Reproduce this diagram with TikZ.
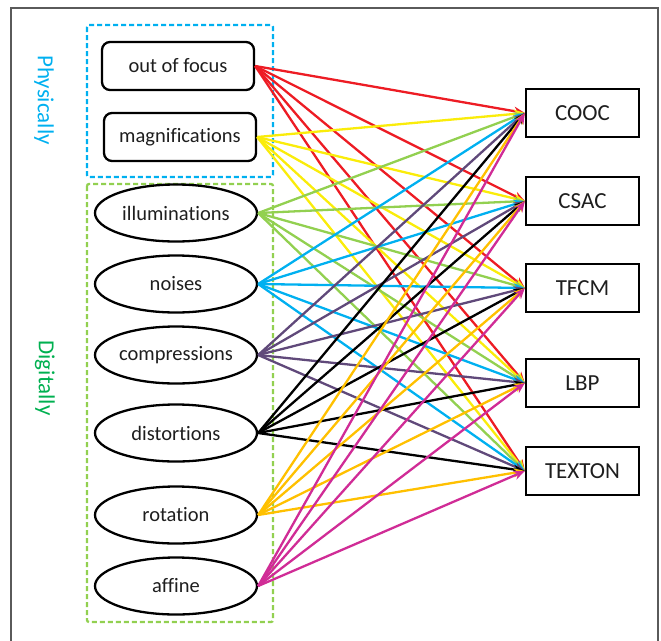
\documentclass[tikz,border=0pt]{standalone}
\usepackage{fontspec}
\setmainfont{Carlito}[Ligatures=NoCommon]
\usetikzlibrary{arrows.meta,shapes.geometric}
\definecolor{cred}{RGB}{237,28,36}
\definecolor{cyellow}{RGB}{250,236,10}
\definecolor{cgreen}{RGB}{146,208,80}
\definecolor{cblue}{RGB}{0,176,240}
\definecolor{cpurple}{RGB}{96,73,122}
\definecolor{corange}{RGB}{255,192,0}
\definecolor{cmagenta}{RGB}{208,44,150}
\definecolor{cdgreen}{RGB}{0,176,80}
\definecolor{cframe}{RGB}{90,90,90}
\definecolor{ctext}{RGB}{30,30,30}
\tikzset{
  rbox/.style={draw=black, line width=2.3pt, rounded corners=8pt, minimum width=152pt, minimum height=48pt, inner sep=0pt, text=ctext, font=\fontsize{20.5}{24}\selectfont},
  ebox/.style={draw=black, line width=2.3pt, ellipse, minimum width=162pt, minimum height=57pt, inner sep=0pt, text=ctext, font=\fontsize{20.5}{24}\selectfont},
  tbox/.style={draw=black, line width=2.3pt, minimum width=113pt, minimum height=48pt, inner sep=0pt, text=ctext, font=\fontsize{23}{27}\selectfont},
  grp/.style={line width=2.3pt, dash pattern=on 5pt off 3pt, rounded corners=2pt},
  lbl/.style={rotate=-90, font=\fontsize{23}{27}\selectfont},
  conn/.style={line width=2.3pt, -{Stealth[length=11pt,width=9pt]}}
}
\begin{document}
\begin{tikzpicture}[x=1pt,y=-1pt]
\useasboundingbox (0,0) rectangle (661,640);
\draw[cframe, line width=1.5pt] (11,641) -- (11,8) -- (658,8) -- (658,641);
\draw[grp, cblue] (87,25) rectangle (273,177);
\draw[grp, cgreen] (87,184) rectangle (273,622);
\node[lbl, text=cblue] (phys) at (44,100) {Physically};
\node[lbl, text=cdgreen] (digi) at (45,378) {Digitally};
\node[rbox] (s1) at (178,66) {out of focus};
\node[rbox] (s2) at (180,137) {magnifications};
\node[ebox] (s3) at (176,213) {illuminations};
\node[ebox] (s4) at (176,284) {noises};
\node[ebox] (s5) at (176,355) {compressions};
\node[ebox] (s6) at (176,433) {distortions};
\node[ebox] (s7) at (176,515) {rotation};
\node[ebox] (s8) at (176,586) {affine};
\node[tbox] (t1) at (582.5,113) {COOC};
\node[tbox] (t2) at (582.5,201) {CSAC};
\node[tbox] (t3) at (582.5,288) {TFCM};
\node[tbox] (t4) at (582.5,383) {LBP};
\node[tbox] (t5) at (582.5,471) {TEXTON};
\foreach \s/\c in {s1/cred,s2/cyellow,s3/cgreen,s4/cblue,s5/cpurple,s6/black,s7/corange,s8/cmagenta}{
  \foreach \t in {t1,t2,t3,t4,t5}{
    \draw[conn, \c] (\s.east) -- (\t.west);
  }
}
\end{tikzpicture}
\end{document}
